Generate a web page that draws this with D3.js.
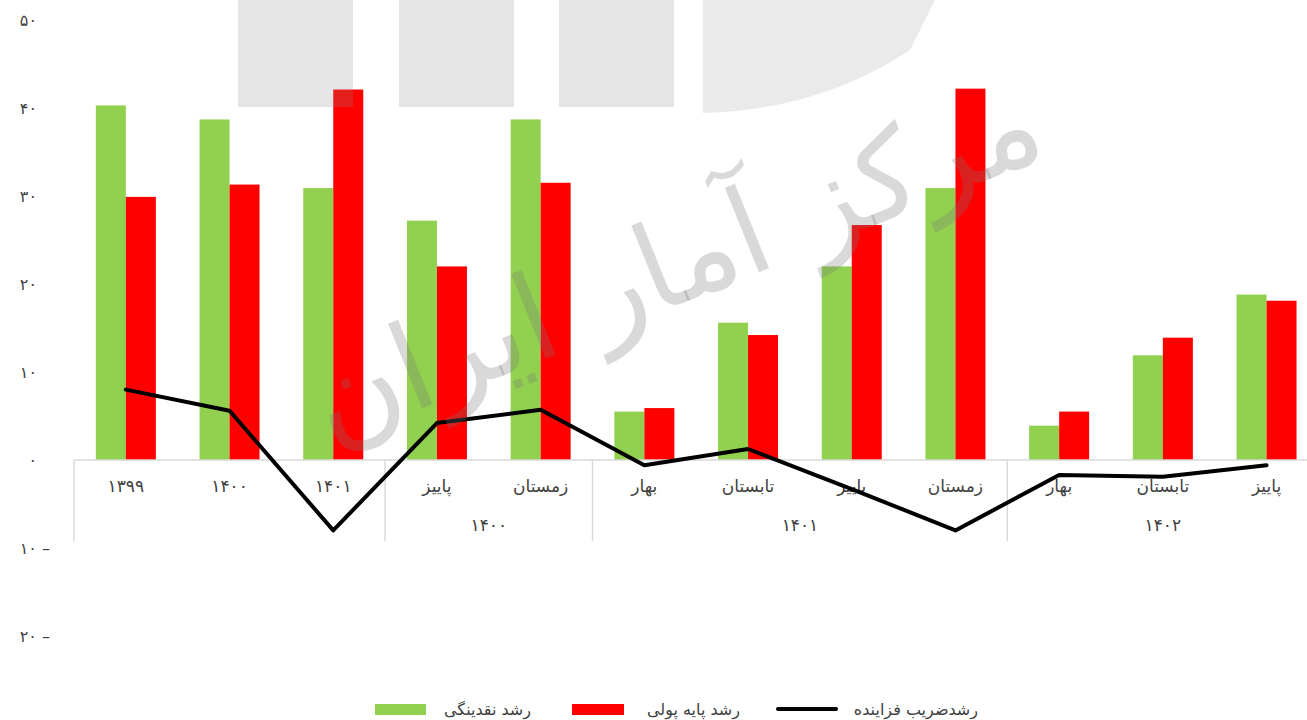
<!DOCTYPE html>
<html lang="fa">
<head>
  <meta charset="UTF-8">
  <title>رشد نقدینگی و پایه پولی</title>
  <script src="https://d3js.org/d3.v7.min.js"></script>
  <style>
    body { margin: 0; background: #fff; }
    text { font-family: "DejaVu Sans", sans-serif; fill: #404040; }
  </style>
</head>
<body>
  <script>
    // chart data
    const categories = ["۱۳۹۹", "۱۴۰۰", "۱۴۰۱", "پاییز", "زمستان", "بهار", "تابستان", "پاییز", "زمستان", "بهار", "تابستان", "پاییز"];
    const groups = [
      { label: "", from: 0, to: 2 },
      { label: "۱۴۰۰", from: 3, to: 4 },
      { label: "۱۴۰۱", from: 5, to: 8 },
      { label: "۱۴۰۲", from: 9, to: 11 }
    ];
    const liquidity = [40.3, 38.7, 30.9, 27.2, 38.7, 5.5, 15.6, 22.0, 30.9, 3.9, 11.9, 18.8];
    const monetaryBase = [29.9, 31.3, 42.1, 22.0, 31.5, 5.9, 14.2, 26.7, 42.2, 5.5, 13.9, 18.1];
    const multiplier = [8.0, 5.6, -8.0, 4.2, 5.7, -0.6, 1.25, -3.3, -8.0, -1.7, -1.9, -0.6];
    const yTicks = [50, 40, 30, 20, 10, 0, -10, -20];
    const legendNames = ["رشد نقدینگی", "رشد پایه پولی", "رشدضریب فزاینده"];

    const width = 1307;
    const height = 720;
    const green = "#92d050";
    const red = "#ff0000";

    const fa = n => String(n).replace(/\d/g, d => "۰۱۲۳۴۵۶۷۸۹"[d]);

    const svg = d3.select("body")
      .append("svg")
      .attr("width", width)
      .attr("height", height);

    const x = d3.scaleBand()
      .domain(d3.range(categories.length))
      .range([74, 1318.4])
      .padding(0);

    const y = d3.scaleLinear()
      .domain([-20, 50])
      .range([636, 20]);

    const barW = 30;

    // y axis (labels only)
    const yAxis = svg.append("g")
      .attr("transform", "translate(37,0)")
      .call(d3.axisLeft(y).tickValues(yTicks).tickSize(0).tickPadding(0)
        .tickFormat(d => d < 0 ? fa(-d) + "  \u2013" : fa(d)));
    yAxis.select(".domain").remove();
    yAxis.selectAll("text")
      .attr("font-size", 16)
      .attr("letter-spacing", 1)
      .attr("x", d => d < 0 ? 13 : 0)
      .attr("font-family", "DejaVu Sans");

    // bars
    svg.append("g").selectAll("rect")
      .data(liquidity)
      .join("rect")
      .attr("x", (d, i) => x(i) + x.bandwidth() / 2 - barW)
      .attr("y", d => y(d))
      .attr("width", barW)
      .attr("height", d => y(0) - y(d))
      .attr("fill", green);

    svg.append("g").selectAll("rect")
      .data(monetaryBase)
      .join("rect")
      .attr("x", (d, i) => x(i) + x.bandwidth() / 2)
      .attr("y", d => y(d))
      .attr("width", barW)
      .attr("height", d => y(0) - y(d))
      .attr("fill", red);

    // category axis
    const axisG = svg.append("g");
    axisG.append("line")
      .attr("x1", x.range()[0]).attr("x2", width)
      .attr("y1", y(0)).attr("y2", y(0))
      .attr("stroke", "#d9d9d9").attr("stroke-width", 1.5);

    const sepIdx = groups.map(g => g.from).concat([categories.length]);
    axisG.selectAll(".sep")
      .data(sepIdx)
      .join("line")
      .attr("x1", i => i < categories.length ? x(i) : x.range()[1])
      .attr("x2", i => i < categories.length ? x(i) : x.range()[1])
      .attr("y1", y(0)).attr("y2", 541)
      .attr("stroke", "#d9d9d9").attr("stroke-width", 1.5);

    axisG.selectAll(".cat")
      .data(categories)
      .join("text")
      .attr("x", (d, i) => x(i) + x.bandwidth() / 2)
      .attr("y", 492)
      .attr("text-anchor", "middle")
      .attr("font-size", 17)
      .attr("letter-spacing", (d, i) => i < 3 ? 4 : 0)
      .text(d => d);

    axisG.selectAll(".grp")
      .data(groups)
      .join("text")
      .attr("x", g => (x(g.from) + x(g.to) + x.bandwidth()) / 2)
      .attr("y", 531)
      .attr("text-anchor", "middle")
      .attr("font-size", 17)
      .attr("letter-spacing", 4)
      .text(g => g.label);

    // multiplier line
    const line = d3.line()
      .x((d, i) => x(i) + x.bandwidth() / 2)
      .y(d => y(d));
    svg.append("path")
      .datum(multiplier)
      .attr("d", line)
      .attr("fill", "none")
      .attr("stroke", "#000")
      .attr("stroke-width", 4)
      .attr("stroke-linejoin", "round")
      .attr("stroke-linecap", "round");

    // watermark
    const wm = svg.append("g").attr("pointer-events", "none");
    [238, 399, 559].forEach(x0 => {
      wm.append("rect")
        .attr("x", x0).attr("y", 0)
        .attr("width", 115).attr("height", 107)
        .attr("fill", "#888").attr("fill-opacity", 0.22);
    });
    wm.append("path")
      .attr("d", "M703,0 L703,113 Q820,110 910,50 L935,0 Z")
      .attr("fill", "#888").attr("fill-opacity", 0.18);
    wm.append("text")
      .attr("transform", "translate(690,300) rotate(-22)")
      .attr("text-anchor", "middle")
      .attr("font-size", 120)
      .style("fill", "#777")
      .attr("fill-opacity", 0.28)
      .text("مرکز آمار ایران");

    // legend
    const lg = svg.append("g").attr("font-size", 16);
    lg.append("rect").attr("x", 375).attr("y", 704).attr("width", 51).attr("height", 11).attr("fill", green);
    lg.append("text").attr("x", 531).attr("y", 715).attr("text-anchor", "end").text(legendNames[0]);
    lg.append("rect").attr("x", 572).attr("y", 704).attr("width", 52).attr("height", 11).attr("fill", red);
    lg.append("text").attr("x", 740).attr("y", 715).attr("text-anchor", "end").text(legendNames[1]);
    lg.append("line").attr("x1", 778).attr("x2", 836).attr("y1", 709).attr("y2", 709)
      .attr("stroke", "#000").attr("stroke-width", 4).attr("stroke-linecap", "round");
    lg.append("text").attr("x", 978).attr("y", 715).attr("text-anchor", "end").text(legendNames[2]);
  </script>
</body>
</html>
